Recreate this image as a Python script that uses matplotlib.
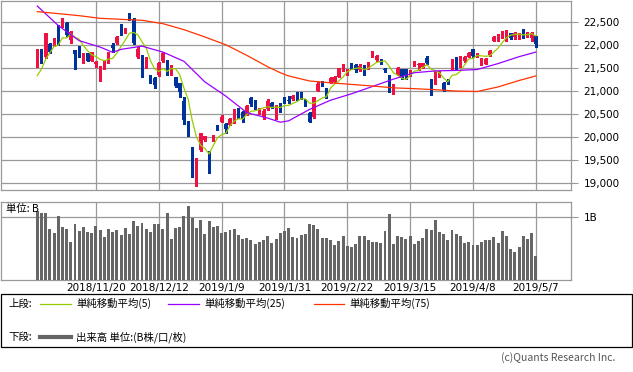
import matplotlib
matplotlib.use('Agg')
import matplotlib.pyplot as plt
import numpy as np
from matplotlib.patches import Rectangle

plt.rcParams['font.family'] = ['Noto Sans CJK JP', 'DejaVu Sans']

# daily candles, 2018/10/31 .. 2019/5/7 (index 0..119)
opens = [21546, 21917, 21736, 22019, 21983, 22201, 22441, 22492, 22114, 21896,
         21850, 21656, 21823, 21663, 21600, 21256, 21583, 21641, 21997, 22041,
         22390, 22274, 22645, 22572, 21750, 21765, 21670, 21328, 21277, 21340,
         21665, 21656, 21370, 21300, 21180, 20790, 20330, 19786, 19300, 19710,
         19940, 19640, 19940, 20240, 20330, 20280, 20270, 20350, 20590, 20550,
         20480, 20850, 20760, 20520, 20430, 20600, 20750, 20550, 20717, 20856,
         20810, 20820, 20965, 20970, 20820, 20528, 20427, 21008, 21180, 21059,
         21183, 21205, 21314, 21459, 21350, 21583, 21560, 21450, 21547, 21500,
         21820, 21680, 21650, 21470, 21350, 21023, 21350, 21474, 21474, 21350,
         21590, 21570, 21517, 21714, 21263, 21168, 21330, 21183, 21220, 21474,
         21740, 21532, 21650, 21750, 21910, 21760, 21590, 21600, 21790, 22099,
         22114, 22172, 22180, 22259, 22187, 22187, 22347, 22201, 22150, 22200]
highs = [21917, 21920, 22260, 22041, 22165, 22441, 22587, 22514, 22318, 21896,
         21990, 21823, 21830, 21859, 21656, 21554, 21677, 21845, 22041, 22200,
         22456, 22370, 22696, 22587, 21968, 21787, 21750, 21350, 21299, 21640,
         21858, 21670, 21560, 21300, 21180, 20860, 20340, 19786, 19530, 20095,
         20030, 19700, 20050, 20270, 20470, 20300, 20420, 20600, 20620, 20560,
         20690, 20870, 20800, 20640, 20600, 20830, 20770, 20700, 20730, 20880,
         20900, 20920, 20980, 20980, 20830, 20540, 20880, 21200, 21210, 21070,
         21300, 21320, 21500, 21580, 21480, 21610, 21590, 21580, 21560, 21630,
         21880, 21790, 21700, 21500, 21360, 21150, 21520, 21490, 21480, 21470,
         21650, 21620, 21620, 21760, 21270, 21430, 21440, 21200, 21260, 21700,
         21750, 21760, 21760, 21850, 21920, 21830, 21720, 21720, 21900, 22200,
         22240, 22310, 22330, 22270, 22290, 22260, 22360, 22280, 22280, 22210]
lows = [21532, 21620, 21730, 21823, 21975, 22005, 22405, 22201, 22041, 21474,
        21750, 21605, 21660, 21656, 21532, 21219, 21474, 21605, 21859, 22030,
        22223, 22260, 22550, 22027, 21714, 21299, 21496, 21183, 21059, 21330,
        21640, 21340, 21340, 21090, 20880, 20280, 20010, 19118, 18930, 19700,
        19920, 19220, 19900, 20150, 20320, 20090, 20250, 20300, 20420, 20330,
        20470, 20680, 20600, 20500, 20400, 20590, 20630, 20400, 20540, 20740,
        20730, 20800, 20810, 20830, 20670, 20315, 20405, 21000, 21120, 20840,
        21170, 21200, 21300, 21440, 21340, 21490, 21420, 21440, 21360, 21490,
        21750, 21660, 21600, 21420, 20990, 20935, 21340, 21270, 21260, 21330,
        21540, 21460, 21500, 21600, 20910, 21160, 21300, 21010, 21150, 21460,
        21480, 21520, 21630, 21740, 21740, 21740, 21570, 21580, 21770, 22090,
        22100, 22160, 22100, 22140, 22140, 22140, 22150, 22170, 22100, 21960]
closes = [21917, 21677, 22259, 21860, 22150, 22056, 22500, 22223, 22296, 21801,
          21840, 21808, 21663, 21845, 21605, 21532, 21663, 21823, 21947, 22187,
          22245, 22354, 22572, 22041, 21917, 21496, 21677, 21205, 21132, 21620,
          21823, 21370, 21510, 21110, 20990, 20360, 20160, 19146, 19330, 20090,
          20015, 19560, 20040, 20200, 20427, 20165, 20380, 20560, 20440, 20400,
          20666, 20720, 20620, 20593, 20574, 20773, 20649, 20664, 20556, 20773,
          20788, 20883, 20844, 20874, 20751, 20333, 20864, 21144, 21139, 20900,
          21281, 21302, 21496, 21568, 21459, 21510, 21449, 21540, 21385, 21610,
          21835, 21760, 21630, 21456, 21025, 21132, 21496, 21292, 21320, 21459,
          21605, 21583, 21605, 21620, 20977, 21423, 21378, 21030, 21205, 21680,
          21500, 21740, 21745, 21830, 21760, 21805, 21700, 21700, 21880, 22187,
          22223, 22296, 22240, 22150, 22274, 22245, 22223, 22259, 22259, 22030]
pre_close = [20971, 21184, 21149, 21457]  # 4 sessions before the window, for MA5

# volume, unit B
volume = [1.10, 1.06, 1.06, 0.81, 0.75, 1.01, 0.84, 0.81, 0.61, 0.89,
          0.78, 0.84, 0.76, 0.75, 0.86, 0.80, 0.68, 0.81, 0.76, 0.80,
          0.72, 0.83, 0.73, 0.93, 0.86, 0.91, 0.81, 0.76, 0.89, 0.89,
          0.81, 1.07, 0.65, 0.83, 0.84, 1.01, 1.17, 0.99, 0.83, 0.96,
          0.73, 0.93, 0.84, 0.86, 0.75, 0.76, 0.80, 0.81, 0.72, 0.65,
          0.67, 0.64, 0.57, 0.60, 0.64, 0.70, 0.59, 0.65, 0.75, 0.78,
          0.83, 0.68, 0.67, 0.72, 0.73, 0.89, 0.88, 0.81, 0.67, 0.67,
          0.64, 0.56, 0.62, 0.70, 0.54, 0.52, 0.57, 0.70, 0.70, 0.64,
          0.60, 0.60, 0.59, 0.78, 1.04, 0.57, 0.70, 0.68, 0.65, 0.70,
          0.57, 0.62, 0.67, 0.81, 0.80, 0.96, 0.76, 0.73, 0.64, 0.80,
          0.73, 0.70, 0.59, 0.60, 0.56, 0.56, 0.60, 0.64, 0.64, 0.68,
          0.59, 0.78, 0.70, 0.49, 0.44, 0.52, 0.70, 0.65, 0.75, 0.38]

# moving averages read at sample sessions
ma_idx = [0, 5, 10, 15, 18, 20, 25, 30, 35, 40, 45, 50, 55, 58, 60, 65, 70,
          75, 80, 85, 90, 95, 100, 105, 110, 115, 119]
ma25 = [22856, 22430, 22100, 21960, 21845, 21910, 21980, 21850, 21650, 21200,
        20890, 20530, 20410, 20320, 20350, 20600, 20800, 20940, 21100, 21260,
        21400, 21440, 21450, 21470, 21600, 21750, 21850]
ma75 = [22732, 22690, 22645, 22587, 22575, 22565, 22545, 22470, 22340, 22180,
        22010, 21780, 21530, 21400, 21330, 21220, 21180, 21145, 21110, 21070,
        21052, 21030, 21000, 20990, 21090, 21230, 21330]

tick_pos = [14, 29, 44, 59, 74, 89, 104, 119]
tick_labels = ['2018/11/20', '2018/12/12', '2019/1/9', '2019/1/31',
               '2019/2/22', '2019/3/15', '2019/4/8', '2019/5/7']
price_ticks = [19000, 19500, 20000, 20500, 21000, 21500, 22000, 22500]

W, H = 633, 372
def fx(x):
    return x / W
def fy(y):
    return 1 - y / H

up_col = '#ee1144'
dn_col = '#003399'
grid_col = '#999999'

fig = plt.figure(figsize=(W / 100, H / 100), dpi=100)
ax = fig.add_axes([fx(1), fy(190), fx(570), 189.5 / H])
axv = fig.add_axes([fx(1), fy(280), fx(570), 78.5 / H])

x = np.arange(len(closes))
o = np.array(opens)
c = np.array(closes)
cols = [up_col if c[i] >= o[i] else dn_col for i in x]

ax.vlines(x, lows, highs, colors=cols, lw=1.0, zorder=3, antialiased=False)
body = np.maximum(np.abs(c - o), 25)
ax.bar(x, body, bottom=np.minimum(o, c), width=0.72, color=cols, lw=0, zorder=4,
       antialiased=False)

allc = np.array(pre_close + closes, dtype=float)
ma5 = np.convolve(allc, np.ones(5) / 5, mode='valid')
ax.plot(x, ma5, color='#99cc00', lw=0.9, zorder=5)
ax.plot(ma_idx, ma25, color='#9900ff', lw=0.9, zorder=5)
ax.plot(ma_idx, ma75, color='#ff3300', lw=0.9, zorder=5)

xl = (-8.66, 127.4)
ax.set_xlim(*xl)
ax.set_ylim(18841, 22976)
ax.set_xticks(tick_pos)
ax.set_xticklabels([])
ax.tick_params(axis='x', length=0)
ax.yaxis.tick_right()
ax.set_yticks(price_ticks)
ax.set_yticklabels(['{:,}'.format(v) for v in price_ticks], family='DejaVu Sans')
ax.tick_params(axis='y', length=5, width=0.8, color=grid_col, labelsize=7.5, pad=4)
ax.grid(True, color=grid_col, lw=0.9)
ax.set_axisbelow(True)

axv.bar(x, volume, width=0.7, color='#666666', lw=0, zorder=3, antialiased=False)
axv.set_xlim(*xl)
axv.set_ylim(0, 1.246)
axv.set_xticks(tick_pos)
axv.set_xticklabels(tick_labels, family='DejaVu Sans')
axv.tick_params(axis='x', length=0, labelsize=7.5, pad=2)
axv.yaxis.tick_right()
axv.set_yticks([1])
axv.set_yticklabels(['1B'], family='DejaVu Sans')
axv.tick_params(axis='y', length=5, width=0.8, color=grid_col, labelsize=7.5, pad=4)
axv.grid(True, color=grid_col, lw=0.9)
axv.set_axisbelow(True)

for a in (ax, axv):
    for s in a.spines.values():
        s.set_color(grid_col)
        s.set_linewidth(0.9)

fig.text(fx(6), fy(209), '単位: B', fontsize=7.5, va='center', ha='left')

# legend box
fig.add_artist(Rectangle((fx(1), fy(347)), fx(631), 53 / H, transform=fig.transFigure,
                         fill=False, ec='black', lw=0.9))
ly1, ly2 = 303.5, 337
fig.text(fx(8), fy(ly1), '上段:', fontsize=7.5, va='center')
fig.text(fx(8), fy(ly2), '下段:', fontsize=7.5, va='center')
leg = [(40, 71, 76, '#99cc00', '単純移動平均(5)'),
       (168, 199, 204, '#9900ff', '単純移動平均(25)'),
       (314, 344, 349, '#ff3300', '単純移動平均(75)')]
for x0, x1, tx, col, lab in leg:
    fig.add_artist(plt.Line2D([fx(x0), fx(x1)], [fy(ly1), fy(ly1)], color=col, lw=0.9))
    fig.text(fx(tx), fy(ly1), lab, fontsize=7.5, va='center')
fig.add_artist(plt.Line2D([fx(40), fx(71)], [fy(ly2), fy(ly2)], color='#666666', lw=3))
fig.text(fx(76), fy(ly2), '出来高 単位:(B株/口/枚)', fontsize=7.5, va='center')

fig.text(fx(615), fy(358), '(c)Quants Research Inc.', fontsize=7.5, va='center',
         ha='right', color='#555555')

fig.savefig('out.png', dpi=100)
